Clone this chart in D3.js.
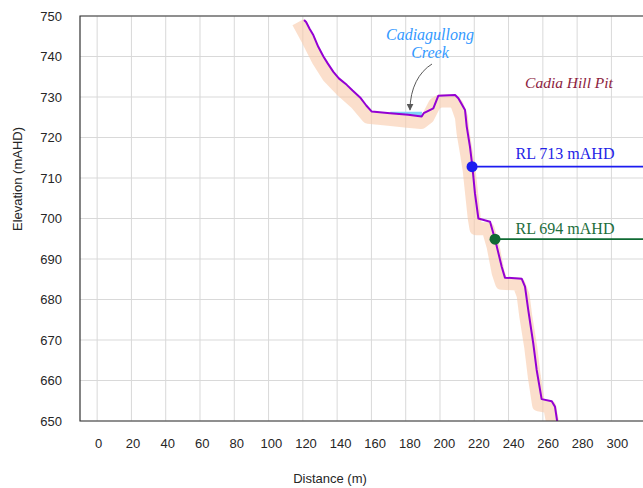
<!DOCTYPE html>
<html><head><meta charset="utf-8">
<script src="https://cdn.jsdelivr.net/npm/d3@7/dist/d3.min.js"></script>
<style>body{margin:0;background:#fff}</style>
</head><body><svg id="c" width="643" height="488"></svg>
<script>
// Ground profile (distance m, elevation mAHD)
const profileDist = [120.7,121.9,124.0,126.1,129.0,132.0,134.5,137.8,141.0,145.6,149.0,153.4,157.0,160.2,170.9,181.5,189.3,190.5,192.3,196.1,199.0,208.8,210.7,214.6,215.6,217.5,218.9,220.4,222.4,229.2,232.1,236.0,237.9,247.7,249.6,251.5,254.4,256.4,259.3,265.2,267.1,268.4];
const profileElev = [749.0,748.5,746.8,745.3,742.4,740.0,738.3,736.2,734.6,733.0,731.6,729.9,727.9,726.4,726.0,725.6,725.2,726.0,726.4,727.2,730.3,730.5,729.7,726.8,722.7,717.7,712.8,706.2,700.0,699.2,694.9,688.1,685.4,685.1,683.2,677.4,669.2,662.6,655.4,654.9,653.5,649.8];
// Shaded band beneath profile
const bandDist = [117.3,123,129,135,143,151,158,170,181,189,193,197,200,208,210,212.5,213.5,215.5,217,218.5,220,221,228,231,234,236,246,248.5,250,253,255,257.5,264,265.5,266.5];
const bandElev = [748.5,744,739,735,731.5,728.5,725,724.5,724,723.7,725,728.3,729,729,728,725,721,716,712,706,700,697.5,697.5,693,686.5,684,683.8,681,676,668,661,654,653.5,650,646];
// Creek water
const creekDist = [171,189.5,189.3,181.5,171];
const creekElev = [726.35,726.35,725.2,725.6,726.0];
// Reference levels
const levelNames = ["RL 713 mAHD","RL 694 mAHD"];
const levelDist = [218.7,232.1];
const levelElev = [712.8,694.9];
const xTicks = [0,20,40,60,80,100,120,140,160,180,200,220,240,260,280,300];
const yTicks = [650,660,670,680,690,700,710,720,730,740,750];

const svg = d3.select("#c");
const x = d3.scaleLinear().domain([-10,320]).range([80,645.7]);
const xl = d3.scaleLinear().domain([0,300]).range([98.5,617.3]);
const y = d3.scaleLinear().domain([650,750]).range([421,16]);

const defs = svg.append("defs");
defs.append("clipPath").attr("id","clip").append("rect").attr("x",80).attr("y",16).attr("width",570).attr("height",405);
defs.append("marker").attr("id","ah").attr("viewBox","0 0 10 10").attr("refX",9).attr("refY",5)
  .attr("markerWidth",7).attr("markerHeight",7).attr("orient","auto")
  .append("path").attr("d","M0,0L10,5L0,10z").attr("fill","#595959");

// gridlines
svg.append("g").selectAll("line").data(xTicks).join("line")
  .attr("x1",d=>x(d)).attr("x2",d=>x(d)).attr("y1",16).attr("y2",421)
  .attr("stroke","#d9d9d9").attr("stroke-width",1);
svg.append("g").selectAll("line").data(yTicks).join("line")
  .attr("x1",80).attr("x2",643).attr("y1",d=>y(d)).attr("y2",d=>y(d))
  .attr("stroke","#d9d9d9").attr("stroke-width",1);

// axis labels
const sans = "Liberation Sans, Arial, sans-serif";
svg.append("g").selectAll("text").data(yTicks).join("text")
  .attr("x",62).attr("y",d=>y(d)).attr("dy","0.35em").attr("text-anchor","end")
  .attr("font-family",sans).attr("font-size",13).attr("fill","#262626").text(d=>d);
svg.append("g").selectAll("text").data(xTicks).join("text")
  .attr("x",d=>xl(d)).attr("y",443).attr("dy","0.35em").attr("text-anchor","middle")
  .attr("font-family",sans).attr("font-size",13).attr("fill","#262626").text(d=>d);
svg.append("text").attr("x",330).attr("y",478).attr("dy","0.35em").attr("text-anchor","middle")
  .attr("font-family",sans).attr("font-size",13).attr("fill","#262626").text("Distance (m)");
svg.append("text").attr("transform","translate(17.5,179) rotate(-90)").attr("dy","0.35em").attr("text-anchor","middle")
  .attr("font-family",sans).attr("font-size",13).attr("fill","#262626").text("Elevation (mAHD)");

const g = svg.append("g").attr("clip-path","url(#clip)");
const line = d3.line().x(d=>x(d[0])).y(d=>y(d[1]));

// band
g.append("path").datum(bandDist.map((d,i)=>[d,bandElev[i]])).attr("d",line)
  .attr("fill","none").attr("stroke","#f8c9aa").attr("stroke-opacity",0.6).attr("stroke-width",13)
  .attr("stroke-linejoin","round");
// creek
g.append("path").datum(creekDist.map((d,i)=>[d,creekElev[i]])).attr("d",line)
  .attr("fill","#7fd3f7").attr("stroke","none");
// profile
g.append("path").datum(profileDist.map((d,i)=>[d,profileElev[i]])).attr("d",line)
  .attr("fill","none").attr("stroke","#9400d3").attr("stroke-width",2).attr("stroke-linejoin","round");

// levels
const lvlColors = ["#1c1cf0","#0f6a33"];
const txtColors = ["#2323e6","#1d6e3c"];
const lvlTextY = [153,228.5];
levelNames.forEach((n,i)=>{
  g.append("line").attr("x1",x(levelDist[i])).attr("x2",650).attr("y1",y(levelElev[i])).attr("y2",y(levelElev[i]))
    .attr("stroke",lvlColors[i]).attr("stroke-width",1.6);
  svg.append("circle").attr("cx",x(levelDist[i])).attr("cy",y(levelElev[i])).attr("r",5.5).attr("fill",lvlColors[i]);
  svg.append("text").attr("x",565).attr("y",lvlTextY[i]).attr("dy","0.35em").attr("text-anchor","middle")
    .attr("font-family","Liberation Serif, serif").attr("font-size",16).attr("fill",txtColors[i]).text(n);
});

// annotations
const serifI = "Liberation Serif, serif";
svg.append("text").attr("x",430).attr("y",40).attr("text-anchor","middle").attr("font-family",serifI)
  .attr("font-style","italic").attr("font-size",16).attr("fill","#3399ff").text("Cadiagullong");
svg.append("text").attr("x",430).attr("y",57.5).attr("text-anchor","middle").attr("font-family",serifI)
  .attr("font-style","italic").attr("font-size",16).attr("fill","#3399ff").text("Creek");
svg.append("text").attr("x",569).attr("y",88).attr("text-anchor","middle").attr("font-family",serifI)
  .attr("font-style","italic").attr("font-size",15.5).attr("fill","#8c1c40").text("Cadia Hill Pit");
svg.append("path").attr("d","M432,64 C419,72 410,88 410,110").attr("fill","none")
  .attr("stroke","#595959").attr("stroke-width",1).attr("marker-end","url(#ah)");

// frame
svg.append("path").attr("d","M643,16 H80 V421 H643").attr("fill","none").attr("stroke","#333").attr("stroke-width",1.2);
</script></body></html>
